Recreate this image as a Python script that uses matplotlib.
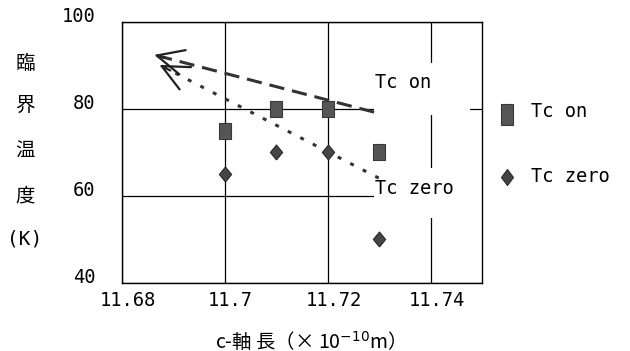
import matplotlib
matplotlib.use("Agg")
import matplotlib.pyplot as plt
from matplotlib.lines import Line2D
from matplotlib.patches import Rectangle
from matplotlib.transforms import ScaledTranslation

# ---- data ----
c_axis = [11.70, 11.71, 11.72, 11.73]
tc_on = [75, 80, 80, 70]
tc_zero = [65, 70, 70, 50]

x_ticks = [11.68, 11.70, 11.72, 11.74]
x_tick_labels = ["11.68", "11.7", "11.72", "11.74"]
y_ticks = [40, 60, 80, 100]
y_tick_labels = ["40", "60", "80", "100"]

# hand-drawn trend arrows (tail -> tip)
on_trend_x = [11.7290, 11.6863]
on_trend_y = [79.3, 92.5]
zero_trend_x = [11.7299, 11.6873]
zero_trend_y = [64.1, 90.2]

series_labels = ["Tc on", "Tc zero"]
ylabel_chars = ["臨", "界", "温", "度", "(K)"]
xlabel_text = "c-軸 長（× 10$^{-10}$m）"

MONO = "DejaVu Sans Mono"
CJK = ["Noto Sans CJK JP", "DejaVu Sans"]
FS = 13.5

fig = plt.figure(figsize=(6.3, 3.51), dpi=100)
ax = fig.add_axes([121.7 / 630, 1 - 282.7 / 351, (482.3 - 121.7) / 630, (282.7 - 22.3) / 351])
ax.set_xlim(11.68, 11.75)
ax.set_ylim(40, 100)

ax.set_xticks(x_ticks)
ax.set_xticklabels(x_tick_labels, fontfamily=MONO, fontsize=FS)
ax.set_yticks(y_ticks)
ax.set_yticklabels(y_tick_labels, fontfamily=MONO, fontsize=FS)
ax.tick_params(length=0)
ax.tick_params(axis="y", pad=19)
ax.tick_params(axis="x", pad=6)
for lbl in ax.get_yticklabels():
    lbl.set_va("baseline")
for lbl in ax.get_xticklabels():
    lbl.set_transform(lbl.get_transform() + ScaledTranslation(6 / 100, 0, fig.dpi_scale_trans))

ax.set_axisbelow(True)
ax.grid(True, color="black", linewidth=0.9)
for s in ax.spines.values():
    s.set_color("black")
    s.set_linewidth(1.0)

# white boxes behind the in-plot labels (cover grid lines)
ax.add_patch(Rectangle((11.7290, 78.6), 0.0186, 12.0, facecolor="white",
                       edgecolor="none", zorder=1.5))
ax.add_patch(Rectangle((11.7290, 54.9), 0.0210, 11.5, facecolor="white",
                       edgecolor="none", zorder=1.5))

# trend lines
ax.plot(on_trend_x, on_trend_y, color="#333333", lw=2.2, dashes=(5, 2.6),
        solid_capstyle="butt", dash_capstyle="butt", zorder=2)
ax.plot(zero_trend_x, zero_trend_y, color="#333333", lw=2.2, dashes=(1.3, 3.3),
        dash_capstyle="butt", zorder=2)
for tx, ty in ((on_trend_x, on_trend_y), (zero_trend_x, zero_trend_y)):
    fx = tx[1] + (tx[0] - tx[1]) * 0.05
    fy = ty[1] + (ty[0] - ty[1]) * 0.05
    ax.annotate("", xy=(tx[1], ty[1]), xytext=(fx, fy),
                arrowprops=dict(arrowstyle="->,head_length=1.6,head_width=0.75",
                                color="#222222", lw=1.6, mutation_scale=12,
                                shrinkA=0, shrinkB=0), zorder=2)

rect_marker = [(-0.37, -0.5), (0.37, -0.5), (0.37, 0.5), (-0.37, 0.5), (-0.37, -0.5)]
diam_marker = [(0, -0.5), (0.41, 0), (0, 0.5), (-0.41, 0), (0, -0.5)]

ax.plot(c_axis, tc_on, linestyle="none", marker=rect_marker, markersize=12,
        markerfacecolor="#555555", markeredgecolor="#3a3a3a", markeredgewidth=0.8, zorder=3)
ax.plot(c_axis, tc_zero, linestyle="none", marker=diam_marker, markersize=10.8,
        markerfacecolor="#454545", markeredgecolor="#2a2a2a", markeredgewidth=0.8, zorder=3)

ax.text(11.7292, 86.2, series_labels[0], fontfamily=MONO, fontsize=FS,
        ha="left", va="center", zorder=4)
ax.text(11.7292, 61.8, series_labels[1], fontfamily=MONO, fontsize=FS,
        ha="left", va="center", zorder=4)

# legend (markers sit a little below the text centre, as in the original)
leg_rect = [(-0.2, -0.5), (0.2, -0.5), (0.2, 0.2), (-0.2, 0.2), (-0.2, -0.5)]
leg_diam = [(0, -0.5), (0.3, -0.1), (0, 0.3), (-0.3, -0.1), (0, -0.5)]
handles = [
    Line2D([], [], linestyle="none", marker=leg_rect, markersize=21.4,
           markerfacecolor="#555555", markeredgecolor="#3a3a3a", markeredgewidth=0.8),
    Line2D([], [], linestyle="none", marker=leg_diam, markersize=14.4,
           markerfacecolor="#454545", markeredgecolor="#2a2a2a", markeredgewidth=0.8),
]
fig.legend(handles, series_labels, loc="upper left",
           bbox_to_anchor=(497.5 / 630, 1 - 102 / 351), frameon=False,
           prop=dict(family=MONO, size=FS), handlelength=1.0, handletextpad=0.8,
           labelspacing=2.45, borderpad=0, borderaxespad=0, numpoints=1)

# y label: stacked characters
ycent = [63, 105, 151, 196, 239]
for ch, yc in zip(ylabel_chars, ycent):
    fam = CJK if ch != "(K)" else [MONO]
    fig.text(25 / 630, 1 - yc / 351, ch, family=fam, fontsize=14,
             ha="center", va="center")

# x label
fig.text(305 / 630, 1 - 347.5 / 351, xlabel_text, family="Noto Sans CJK JP",
         fontsize=14, ha="center", va="baseline")

fig.savefig("out.png", dpi=100)
